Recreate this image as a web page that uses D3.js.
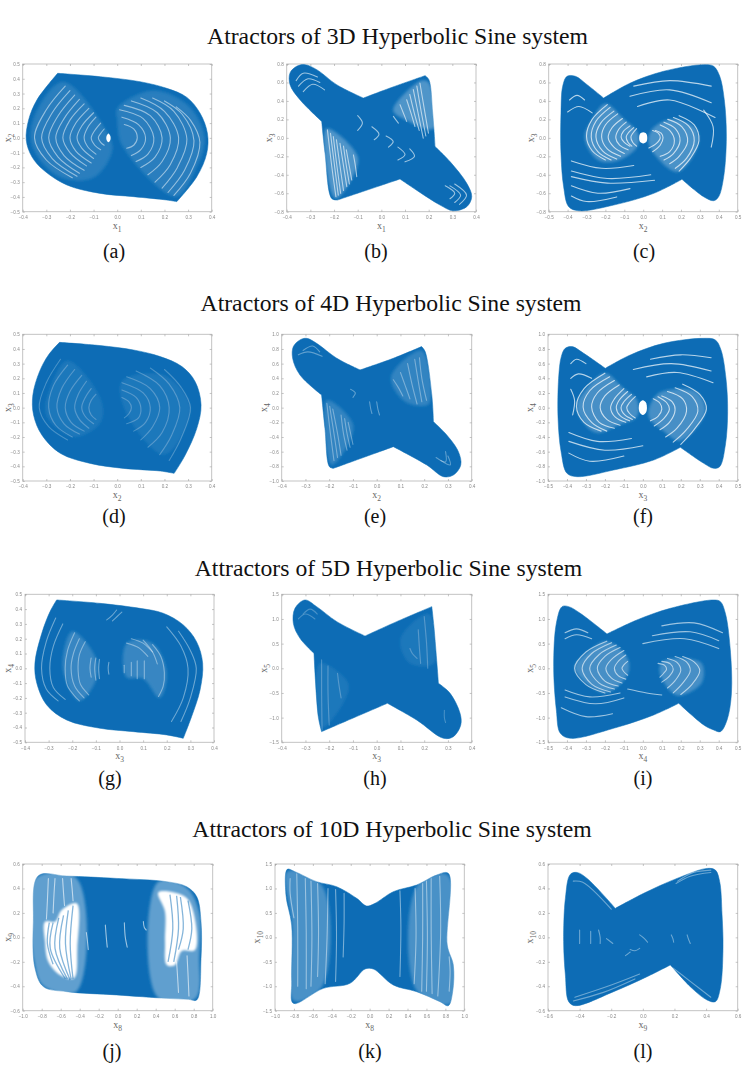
<!DOCTYPE html>
<html>
<head>
<meta charset="utf-8">
<script src="https://cdn.jsdelivr.net/npm/d3@7"></script>
<style>
  body { margin: 0; background: #fff; }
  svg { display: block; }
</style>
</head>
<body>
<div id="chart"></div>
<script>
// Section titles and panel letters
const titles = [
  "Atractors of 3D Hyperbolic Sine system",
  "Atractors of 4D Hyperbolic Sine system",
  "Attractors of 5D Hyperbolic Sine system",
  "Attractors of 10D Hyperbolic Sine system"
];
const panelIds = ["a", "b", "c", "d", "e", "f", "g", "h", "i", "j", "k", "l"];
const xNames = ["1", "1", "2", "2", "2", "3", "3", "3", "4", "8", "8", "9"];
const yNames = ["2", "3", "3", "3", "4", "4", "4", "5", "5", "9", "10", "10"];

// Tick labels of each axis
const ticks4 = [-0.4, -0.3, -0.2, -0.1, 0, 0.1, 0.2, 0.3, 0.4];
const ticks5 = [-0.5, -0.4, -0.3, -0.2, -0.1, 0, 0.1, 0.2, 0.3, 0.4, 0.5];
const ticks6 = [-0.6, -0.4, -0.2, 0, 0.2, 0.4, 0.6];
const ticks8 = [-0.8, -0.6, -0.4, -0.2, 0, 0.2, 0.4, 0.6, 0.8];
const ticks10 = [-1, -0.8, -0.6, -0.4, -0.2, 0, 0.2, 0.4, 0.6, 0.8, 1];
const ticks15 = [-1.5, -1, -0.5, 0, 0.5, 1, 1.5];

// Attractor outlines as [x, y] in axis units
const outlineA = [[-0.252,0.437],[-0.072,0.414],[0.097,0.38],[0.21,0.335],[0.295,0.274],[0.351,0.166],[0.382,0.03],[0.379,-0.105],[0.337,-0.263],[0.252,-0.432],[0.21,-0.421],[0.069,-0.398],[-0.072,-0.376],[-0.213,-0.319],[-0.312,-0.218],[-0.361,-0.128],[-0.385,-0.015],[-0.375,0.121],[-0.34,0.256]];
const outlineB = [[-0.323,0.793],[-0.273,0.739],[-0.189,0.576],[-0.076,0.431],[0.037,0.54],[0.185,0.674],[0.201,0.63],[0.217,0.268],[0.227,-0.094],[0.29,-0.257],[0.361,-0.493],[0.382,-0.638],[0.361,-0.746],[0.304,-0.79],[0.248,-0.728],[0.079,-0.446],[-0.186,-0.674],[-0.21,-0.656],[-0.238,-0.167],[-0.252,0.178],[-0.344,0.413],[-0.386,0.576],[-0.386,0.703],[-0.358,0.775]];
const outlineC = [[-0.403,0.667],[-0.359,0.667],[-0.297,0.576],[-0.209,0.431],[-0.068,0.594],[0.108,0.721],[0.32,0.793],[0.373,0.775],[0.405,0.667],[0.429,0.413],[0.44,0.014],[0.426,-0.42],[0.399,-0.638],[0.373,-0.681],[0.32,-0.638],[0.205,-0.449],[0.056,-0.601],[-0.156,-0.728],[-0.341,-0.79],[-0.394,-0.746],[-0.421,-0.529],[-0.435,-0.167],[-0.435,0.268],[-0.426,0.558]];
const outlineD = [[-0.244,0.445],[-0.072,0.423],[0.069,0.393],[0.182,0.348],[0.274,0.28],[0.33,0.177],[0.355,0.018],[0.337,-0.141],[0.288,-0.323],[0.241,-0.448],[0.182,-0.432],[0.027,-0.414],[-0.114,-0.38],[-0.241,-0.311],[-0.319,-0.186],[-0.354,-0.05],[-0.357,0.086],[-0.329,0.245],[-0.291,0.359]];
const outlineE = [[-0.295,0.945],[-0.253,0.877],[-0.168,0.673],[-0.07,0.514],[0.07,0.673],[0.189,0.832],[0.204,0.764],[0.232,0.173],[0.239,-0.191],[0.295,-0.373],[0.344,-0.6],[0.354,-0.782],[0.323,-0.918],[0.281,-0.941],[0.211,-0.782],[0.07,-0.532],[-0.182,-0.827],[-0.199,-0.805],[-0.218,-0.282],[-0.232,0.173],[-0.323,0.445],[-0.354,0.673],[-0.351,0.832],[-0.323,0.923]];
const outlineF = [[-0.409,0.809],[-0.373,0.832],[-0.312,0.741],[-0.198,0.536],[-0.066,0.718],[0.11,0.877],[0.321,0.945],[0.382,0.923],[0.412,0.786],[0.438,0.4],[0.447,-0.055],[0.435,-0.509],[0.405,-0.805],[0.373,-0.827],[0.321,-0.759],[0.198,-0.541],[0.057,-0.714],[-0.154,-0.85],[-0.347,-0.941],[-0.4,-0.895],[-0.431,-0.6],[-0.447,-0.145],[-0.444,0.4],[-0.43,0.695]];
const outlineG = [[-0.266,0.462],[-0.083,0.439],[0.087,0.405],[0.185,0.372],[0.27,0.293],[0.326,0.18],[0.352,0.034],[0.341,-0.146],[0.305,-0.327],[0.27,-0.473],[0.2,-0.45],[0.059,-0.428],[-0.083,-0.405],[-0.224,-0.349],[-0.308,-0.248],[-0.35,-0.101],[-0.358,0.034],[-0.329,0.236],[-0.294,0.383]];
const outlineH = [[-0.302,1.385],[-0.253,1.25],[-0.168,0.946],[-0.049,0.655],[0.084,0.946],[0.232,1.25],[0.241,0.845],[0.26,-0.304],[0.309,-0.507],[0.351,-0.912],[0.354,-1.149],[0.323,-1.385],[0.281,-1.419],[0.168,-1.047],[0.045,-0.709],[-0.232,-1.284],[-0.246,-0.98],[-0.264,0.304],[-0.323,0.608],[-0.351,0.912],[-0.344,1.216]];
const outlineI = [[-0.426,1.25],[-0.391,1.25],[-0.33,1.115],[-0.189,0.696],[-0.031,0.98],[0.145,1.216],[0.373,1.385],[0.409,1.351],[0.435,1.115],[0.461,0.372],[0.467,-0.507],[0.444,-1.047],[0.409,-1.284],[0.373,-1.25],[0.321,-1.149],[0.189,-0.709],[0.057,-0.946],[-0.154,-1.216],[-0.382,-1.419],[-0.435,-1.318],[-0.456,-0.845],[-0.47,0.034],[-0.456,0.912]];
const outlineJ = [[-0.835,0.504],[-0.537,0.501],[-0.011,0.482],[0.516,0.455],[0.726,0.414],[0.832,0.332],[0.877,0.128],[0.877,-0.172],[0.832,-0.512],[0.744,-0.507],[0.516,-0.499],[-0.011,-0.471],[-0.537,-0.444],[-0.782,-0.403],[-0.87,-0.253],[-0.888,0.128]];
const outlineK = [[-0.87,1.391],[-0.789,1.343],[-0.56,1.138],[-0.349,1.036],[-0.137,0.798],[-0.032,0.641],[0.056,0.695],[0.25,0.934],[0.496,1.07],[0.708,1.275],[0.831,1.309],[0.82,-0.157],[0.884,-0.566],[0.877,-1.111],[0.831,-1.397],[0.743,-1.316],[0.496,-1.111],[0.25,-0.975],[0.039,-0.648],[-0.049,-0.648],[-0.208,-0.941],[-0.489,-1.043],[-0.806,-1.35],[-0.824,-0.907],[-0.824,0.252],[-0.884,0.866]];
const outlineL = [[-0.459,0.515],[-0.417,0.531],[-0.353,0.482],[-0.174,0.237],[0.005,0.36],[0.216,0.482],[0.406,0.564],[0.459,0.55],[0.486,0.455],[0.501,0.183],[0.507,-0.09],[0.49,-0.417],[0.459,-0.526],[0.406,-0.512],[0.311,-0.417],[0.174,-0.226],[0.026,-0.322],[-0.185,-0.444],[-0.427,-0.559],[-0.469,-0.526],[-0.49,-0.308],[-0.501,-0.035],[-0.49,0.319]];

// Which outline points are sharp corners rather than part of a smooth edge
const corners = [[0,9],[3,5,8,15,16,19],[3,15],[0,9],[3,5,8,15,16,19],[3,15],[0,9],[3,5,7,14,15,17],[3,15],[],[],[3,15]];

// Pale gaps between the orbits, each traced as a few [x, y] points
const gapsA = [
  [[-.22,.35],[-.30,.19],[-.35,0],[-.30,-.15],[-.19,-.27]],[[-.2,.32],[-.275,.17],[-.32,0],[-.275,-.14],[-.17,-.26]],[[-.18,.29],[-.25,.15],[-.29,0],[-.25,-.13],[-.16,-.24]],
  [[-.16,.26],[-.225,.13],[-.26,0],[-.225,-.12],[-.14,-.22]],[[-.14,.23],[-.2,.12],[-.23,0],[-.2,-.1],[-.13,-.19]],[[-.12,.2],[-.175,.1],[-.2,0],[-.175,-.09],[-.11,-.17]],
  [[-.1,.17],[-.15,.08],[-.17,0],[-.15,-.07],[-.1,-.14]],[[-.09,.14],[-.125,.07],[-.14,0],[-.125,-.06],[-.09,-.11]],[[-.07,.1],[-.095,.05],[-.11,0],[-.095,-.05],[-.07,-.08]],[[-.055,.06],[-.07,.03],[-.08,0],[-.07,-.03],[-.055,-.05]],
  [[.03,.09],[.07,.06],[.085,0],[.07,-.05],[.04,-.07]],[[.02,.14],[.09,.09],[.12,0],[.1,-.08],[.06,-.12]],[[.01,.19],[.11,.13],[.155,0],[.13,-.11],[.08,-.16]],
  [[.03,.22],[.14,.15],[.19,0],[.16,-.13],[.1,-.2]],[[.06,.25],[.17,.17],[.225,0],[.19,-.16],[.13,-.25]],[[.1,.27],[.2,.18],[.26,0],[.225,-.18],[.16,-.3]],
  [[.15,.27],[.24,.18],[.295,-.01],[.255,-.2],[.19,-.34]],[[.2,.25],[.275,.16],[.325,-.02],[.285,-.22],[.215,-.37]],[[.25,.21],[.31,.12],[.35,-.03],[.31,-.24],[.24,-.39]]
];
const gapsB = [
  [[-.228,.087],[-.21,-.3],[-.192,-.638]],[[-.215,.05],[-.198,-.3],[-.182,-.62]],[[-.203,.014],[-.188,-.3],[-.172,-.601]],[[-.19,-.02],[-.175,-.3],[-.16,-.57]],[[-.175,-.058],[-.16,-.3],[-.146,-.529]],[[-.16,-.09],[-.148,-.3],[-.135,-.5]],[[-.148,-.13],[-.136,-.3],[-.125,-.457]],[[-.118,-.185],[-.11,-.3],[-.104,-.42]],
  [[.135,.522],[.156,.26],[.177,-.004]],[[.15,.56],[.168,.29],[.188,.02]],[[.163,.594],[.181,.32],[.199,.051]],[[.12,.47],[.14,.26],[.16,.08]],[[.107,.413],[.125,.27],[.142,.123]],[[.079,.359],[.093,.27],[.107,.178]],[[.051,.232],[.06,.2],[.072,.159]],
  [[-.36,.62],[-.33,.7],[-.27,.66]],[[-.35,.56],[-.31,.64],[-.26,.6]],[[-.33,.5],[-.29,.58],[-.24,.52]],[[.33,-.72],[.36,-.62],[.31,-.5]],[[.31,-.7],[.335,-.62],[.29,-.52]],[[.29,-.66],[.31,-.6],[.27,-.52]],
  [[-.1,.24],[-.08,.16],[-.1,.08]],[[-.04,.12],[-.01,.04],[-.03,-.02]],[[.02,.02],[.05,-.04],[.03,-.1]],[[.12,-.12],[.14,-.2],[.1,-.26]],[[.07,-.1],[.1,-.18],[.07,-.24]]
];
const gapsC = [
  [[-.19,.36],[-.27,.2],[-.3,.02],[-.27,-.14],[-.2,-.24]],[[-.175,.33],[-.25,.18],[-.275,.01],[-.24,-.15],[-.17,-.24]],[[-.155,.29],[-.225,.16],[-.25,.01],[-.215,-.14],[-.14,-.23]],[[-.135,.26],[-.2,.14],[-.22,.01],[-.19,-.12],[-.12,-.2]],
  [[-.11,.21],[-.165,.11],[-.185,0],[-.155,-.1],[-.1,-.17]],[[-.09,.17],[-.13,.09],[-.145,0],[-.125,-.08],[-.08,-.13]],[[-.07,.13],[-.105,.07],[-.117,.01],[-.1,-.05],[-.07,-.09]],[[-.05,.11],[-.08,.05],[-.09,.01],[-.08,-.05],[-.06,-.09]],[[-.035,.1],[-.055,.05],[-.065,.01],[-.055,-.05],[-.035,-.09]],
  [[.05,.08],[.08,.05],[.09,0],[.07,-.06],[.03,-.11]],[[.065,.08],[.095,.05],[.105,0],[.09,-.08],[.05,-.15]],[[.09,.14],[.14,.08],[.165,-.03],[.14,-.15],[.09,-.2]],[[.11,.17],[.17,.1],[.195,-.03],[.16,-.17],[.11,-.24]],[[.13,.2],[.205,.12],[.235,-.04],[.19,-.2],[.14,-.28]],[[.16,.22],[.24,.13],[.27,-.03],[.23,-.22],[.17,-.33]],[[.19,.24],[.27,.14],[.295,-.03],[.25,-.22],[.19,-.36]],
  [[-.38,-.36],[-.19,-.44],[.04,-.4]],[[-.38,-.42],[-.19,-.49],[.06,-.46]],[[-.38,-.52],[-.24,-.6],[-.07,-.55]],[[-.38,-.63],[-.3,-.69],[-.14,-.64]],[[-.38,-.25],[-.22,-.33],[-.05,-.3]],
  [[-.07,.45],[.14,.52],[.36,.38]],[[-.03,.34],[.14,.41],[.38,.22]],[[-.05,.56],[.14,.62],[.36,.56]],[[.32,.3],[.37,.12],[.36,-.1]],[[-.39,.41],[-.35,.46],[-.31,.41]],[[-.4,.28],[-.34,.34],[-.27,.27]]
];
const gapsD = [
  [[-.24,.33],[-.3,.17],[-.33,0],[-.29,-.13],[-.21,-.22]],[[-.21,.29],[-.27,.15],[-.29,0],[-.26,-.12],[-.19,-.2]],[[-.18,.26],[-.235,.13],[-.255,0],[-.225,-.11],[-.16,-.18]],[[-.15,.22],[-.2,.11],[-.22,0],[-.195,-.1],[-.14,-.16]],[[-.13,.18],[-.165,.09],[-.18,0],[-.16,-.08],[-.12,-.14]],[[-.11,.13],[-.135,.07],[-.15,0],[-.135,-.06],[-.1,-.11]],[[-.09,.09],[-.11,.05],[-.12,0],[-.11,-.05],[-.09,-.08]],
  [[.02,.07],[.05,.04],[.06,0],[.05,-.04],[.03,-.07]],[[.02,.12],[.08,.07],[.1,0],[.09,-.07],[.04,-.11]],[[.02,.17],[.11,.1],[.14,0],[.12,-.1],[.07,-.16]],[[.04,.21],[.14,.13],[.18,0],[.15,-.13],[.1,-.22]],[[.08,.25],[.18,.15],[.22,0],[.19,-.17],[.13,-.27]],[[.14,.27],[.22,.16],[.265,0],[.23,-.19],[.18,-.32]],[[.2,.26],[.27,.14],[.31,0],[.27,-.21],[.22,-.36]]
];
const gapsE = [
  [[-.21,.06],[-.195,-.35],[-.18,-.72]],[[-.198,.02],[-.18,-.35],[-.165,-.68]],[[-.185,-.02],[-.165,-.35],[-.15,-.65]],[[-.15,-.1],[-.14,-.35],[-.125,-.58]],[[-.135,-.15],[-.125,-.35],[-.112,-.54]],[[-.12,-.2],[-.11,-.35],[-.1,-.5]],
  [[.13,.6],[.15,.3],[.17,.05]],[[.1,.48],[.12,.3],[.14,.12]],[[.07,.38],[.09,.28],[.11,.16]],[[.16,.66],[.175,.36],[.19,.08]],[[.18,.68],[.19,.4],[.21,.1]],
  [[-.03,.08],[-.025,-.02],[-.02,-.08]],[[0,.08],[.005,-.02],[.012,-.1]],[[-.11,.25],[-.09,.2],[-.1,.14]],[[-.31,.78],[-.27,.84],[-.24,.76]],[[-.33,.72],[-.29,.76],[-.23,.7]],[[.27,-.72],[.31,-.78],[.3,-.66]],[[.25,-.68],[.29,-.74],[.29,-.6]]
];
const gapsF = [
  [[-.2,.47],[-.31,.26],[-.35,.02],[-.31,-.2],[-.22,-.32]],[[-.175,.42],[-.28,.23],[-.315,.01],[-.27,-.2],[-.19,-.32]],[[-.15,.37],[-.24,.2],[-.27,.01],[-.23,-.2],[-.15,-.28]],[[-.125,.31],[-.2,.16],[-.225,0],[-.19,-.16],[-.12,-.24]],[[-.1,.26],[-.15,.12],[-.17,0],[-.145,-.13],[-.09,-.2]],[[-.08,.22],[-.125,.1],[-.14,0],[-.12,-.11],[-.07,-.18]],[[-.06,.18],[-.1,.08],[-.115,0],[-.095,-.1],[-.055,-.16]],[[-.04,.15],[-.07,.07],[-.085,0],[-.07,-.08],[-.04,-.14]],
  [[.055,.12],[.09,.06],[.1,-.02],[.08,-.12],[.04,-.18]],[[.08,.15],[.125,.07],[.14,-.02],[.11,-.15],[.06,-.25]],[[.1,.16],[.155,.08],[.17,-.03],[.14,-.2],[.09,-.3]],[[.13,.22],[.21,.12],[.23,-.05],[.18,-.28],[.12,-.4]],[[.17,.27],[.26,.15],[.29,-.05],[.23,-.3],[.16,-.47]],[[.21,.32],[.3,.18],[.335,-.02],[.27,-.3],[.2,-.5]],
  [[-.39,-.46],[-.2,-.58],[0,-.52]],[[-.39,-.62],[-.28,-.73],[-.1,-.66]],[[-.39,-.34],[-.24,-.46],[-.06,-.42]],[[-.05,.52],[.15,.6],[.36,.5]],[[.02,.42],[.18,.48],[.37,.34]],[[.04,.66],[.2,.72],[.36,.68]],[[-.38,.6],[-.35,.66],[-.3,.6]],[[-.38,.4],[-.34,.46],[-.27,.4]],[[-.38,.25],[-.36,.1],[-.37,-.1]]
];
const gapsG = [
  [[-.19,.24],[-.22,.12],[-.23,0],[-.22,-.12],[-.17,-.22]],[[-.17,.2],[-.195,.1],[-.205,0],[-.19,-.12],[-.15,-.2]],[[-.145,.18],[-.17,.09],[-.175,-.02],[-.165,-.11],[-.13,-.18]],[[-.27,.34],[-.31,.18],[-.33,0],[-.31,-.14],[-.26,-.22]],[[-.24,.3],[-.28,.15],[-.295,0],[-.28,-.13],[-.23,-.21]],
  [[-.12,.07],[-.125,0],[-.12,-.06]],[[-.1,.07],[-.105,0],[-.1,-.08]],[[-.085,.06],[-.088,0],[-.085,-.07]],[[-.045,.04],[-.048,0],[-.045,-.04]],[[.02,.02],[.02,0],[.02,-.03]],[[.05,.04],[.05,0],[.05,-.05]],[[.075,.05],[.075,0],[.075,-.07]],[[.105,.05],[.105,0],[.105,-.07]],
  [[.14,.16],[.175,.08],[.19,-.03],[.185,-.12],[.165,-.19]],[[.1,.19],[.14,.11],[.16,.03]],[[.05,.2],[.1,.17],[.14,.11]],[[.03,.17],[.08,.14],[.12,.08]],[[.2,.28],[.26,.15],[.29,0],[.27,-.2],[.22,-.36]],[[.25,.25],[.3,.12],[.325,0],[.3,-.2],[.26,-.36]],[[-.054,.327],[-.03,.36],[-.012,.394]],[[-.03,.32],[-.01,.35],[.01,.38]]
];
const gapsH = [
  [[-.232,.17],[-.232,-.5],[-.23,-1.25]],[[-.205,.05],[-.205,-.5],[-.2,-1.15]],[[-.165,-.1],[-.16,-.3],[-.15,-.6]],[[.175,.78],[.18,.4],[.185,.1]],[[.2,1.05],[.21,.5],[.215,0]],[[.14,.4],[.15,.3],[.17,.2]],
  [[.285,-.85],[.285,-1],[.29,-1.1]],[[-.31,1.1],[-.28,1.2],[-.25,1.1]],[[-.33,1],[-.3,1.1],[-.26,1]]
];
const gapsI = [
  [[-.19,.55],[-.3,.33],[-.36,0],[-.3,-.33],[-.2,-.5]],[[-.165,.52],[-.27,.3],[-.32,0],[-.27,-.32],[-.17,-.48]],[[-.14,.47],[-.23,.28],[-.28,0],[-.23,-.3],[-.15,-.42]],[[-.12,.42],[-.2,.24],[-.24,0],[-.2,-.26],[-.13,-.36]],[[-.1,.36],[-.165,.18],[-.195,0],[-.165,-.2],[-.11,-.3]],[[-.09,.27],[-.13,.14],[-.15,0],[-.13,-.15],[-.09,-.22]],[[-.08,.14],[-.1,.07],[-.11,0],[-.1,-.07],[-.08,-.14]],
  [[.08,.1],[.115,.06],[.125,-.02],[.11,-.1],[.09,-.18]],[[.1,.14],[.145,.09],[.16,-.02],[.14,-.16],[.1,-.28]],[[.13,.2],[.18,.12],[.2,-.04],[.17,-.25],[.13,-.4]],[[.17,.24],[.23,.13],[.25,-.05],[.21,-.3],[.16,-.5]],[[.21,.24],[.27,.13],[.3,-.05],[.26,-.32],[.2,-.53]],
  [[-.41,.72],[-.35,.8],[-.29,.72]],[[-.41,.6],[-.35,.68],[-.27,.6]],[[-.41,-.58],[-.25,-.72],[-.1,-.6]],[[-.41,-.44],[-.28,-.58],[-.12,-.5]],[[-.43,-.8],[-.3,-.98],[-.16,-.92]],[[.1,.86],[.27,.92],[.42,.72]],[[.05,.66],[.25,.74],[.4,.56]],[[0,.5],[.22,.6],[.4,.4]],[[-.08,-.42],[.02,-.5],[.1,-.54]]
];
const gapsJ = [
  [[-.73,.48],[-.74,.3],[-.75,.15]],[[-.66,.48],[-.67,.36],[-.68,.2]],[[-.58,.48],[-.57,.36],[-.56,.26]],[[-.49,.48],[-.48,.4],[-.47,.3]],[[-.33,.04],[-.32,-.02],[-.31,-.1]],[[-.13,.1],[-.12,0],[-.11,-.08]],[[.07,.12],[.08,0],[.1,-.08]],[[.27,.13],[.28,.08],[.3,.06]],
  [[.62,-.2],[.63,-.32],[.64,-.45]],[[.73,-.15],[.74,-.3],[.75,-.48]]
];
const gapsK = [
  [[-.77,1.3],[-.76,.2],[-.76,-1]],[[-.68,1.2],[-.67,.1],[-.67,-1.05]],[[-.62,1.15],[-.61,0],[-.62,-1]],[[-.55,1.1],[-.54,.1],[-.55,-.8]],[[-.44,1],[-.45,0],[-.47,-.95]],[[-.36,.98],[-.35,0],[-.36,-.9]],[[-.27,.9],[-.27,.3],[-.28,-.4]],
  [[.32,.95],[.33,.2],[.32,-.8]],[[.48,1],[.49,0],[.47,-.95]],[[.56,1.1],[.56,0],[.55,-1.1]],[[.6,1.15],[.61,0],[.6,-1.1]],[[.65,1.2],[.65,.1],[.66,-1.15]],[[.74,1.25],[.75,.1],[.72,-1.2]],[[-.84,1.2],[-.84,.9],[-.8,.4]],[[.84,-.4],[.85,-.7],[.84,-1.1]]
];
const gapsL = [
  [[-.44,.46],[-.38,.45],[-.2,.23]],[[-.43,-.49],[-.2,-.39],[-.02,-.3]],[[-.44,-.52],[-.25,-.45],[-.05,-.34]],[[.21,.44],[.3,.5],[.43,.53]],[[.22,.46],[.32,.53],[.43,.55]],[[.19,-.25],[.3,-.36],[.43,-.49]],
  [[-.4,.06],[-.4,0],[-.4,-.05]],[[-.33,.05],[-.33,0],[-.33,-.05]],[[-.28,.06],[-.27,0],[-.27,-.05]],[[-.23,-.01],[-.21,-.03],[-.19,-.05]],[[-.02,.02],[.01,-.01],[.03,-.04]],[[.18,.02],[.19,-.01],[.195,-.04]],[[.28,.02],[.29,-.02],[.3,-.05]],[[-.08,-.1],[-.05,-.11],[-.02,-.09]],[[-.11,-.15],[-.1,-.14],[-.08,-.12]]
];

// Empty pockets in the middle of some attractors
const holesA = [[[-0.037,0.03],[-0.029,0.012],[-0.029,-0.015],[-0.037,-0.03],[-0.045,-0.015],[-0.045,0.012]]];
const holesC = [[[0,0.06],[0.018,0.04],[0.018,-0.04],[0,-0.06],[-0.018,-0.04],[-0.018,0.04]]];
const holesF = [[[0,0.1],[0.018,0.06],[0.018,-0.06],[0,-0.1],[-0.018,-0.06],[-0.018,0.06]]];
const holesJ = [
  [[-0.765,0.128],[-0.66,0.128],[-0.589,0.223],[-0.432,0.278],[-0.425,-0.09],[-0.46,-0.335],[-0.607,-0.308],[-0.73,-0.199],[-0.765,-0.035]],
  [[0.428,0.368],[0.709,0.332],[0.796,0.21],[0.814,-0.104],[0.674,-0.112],[0.604,-0.226],[0.516,-0.226],[0.498,-0.035],[0.498,0.21]]
];

// Lighter lobes and wings, where the orbits run less densely
const lobesA = [
  [[-.23,.38],[-.05,.06],[-.02,-.08],[-.1,-.27],[-.25,-.26],[-.36,-.05],[-.35,.15]],
  [[.25,-.4],[.02,-.05],[0,.12],[0,.2],[.15,.32],[.3,.22],[.37,0],[.33,-.22]]
];
const lobesB = [
  [[-.232,.1],[-.1,-.2],[-.12,-.42],[-.19,-.66],[-.21,-.6]],
  [[.17,.62],[.2,.6],[.22,.1],[.1,.2],[.05,.3]]
];
const lobesC = [
  [[-.2,.37],[-.1,.2],[-.03,.06],[-.03,-.09],[-.14,-.25],[-.24,-.24],[-.31,0],[-.27,.2]],
  [[.03,-.07],[.18,-.37],[.29,-.08],[.28,.1],[.15,.2],[.05,.1]]
];
const lobesD = [
  [[-.21,.32],[-.07,.06],[-.07,-.1],[-.18,-.2],[-.3,-.05],[-.28,.15]],
  [[.02,.18],[.2,.22],[.31,0],[.2,-.32],[.04,-.04]]
];
const lobesE = [
  [[-.21,.1],[-.1,-.22],[-.12,-.5],[-.19,-.78]],
  [[.19,.78],[.22,.05],[.12,.08],[.06,.42]]
];
const lobesF = [
  [[-.2,.47],[-.1,.26],[-.03,.1],[-.03,-.12],[-.13,-.24],[-.25,-.34],[-.35,0],[-.3,.25]],
  [[.03,-.12],[.1,-.3],[.2,-.45],[.33,-.05],[.28,.22],[.1,.22],[.05,.1]]
];
const lobesG = [
  [[-.2,.25],[-.1,.07],[-.1,-.08],[-.17,-.22],[-.24,0]],
  [[.03,.17],[.14,.17],[.2,-.03],[.17,-.2],[.1,-.07],[.03,-.06]]
];
const lobesH = [
  [[-.24,.1],[-.12,-.3],[-.14,-.7],[-.23,-1.2]],
  [[.22,1.1],[.24,.1],[.14,.1],[.1,.6]]
];
const lobesI = [
  [[-.19,.55],[-.08,.2],[-.08,-.12],[-.2,-.5],[-.36,0],[-.3,.3]],
  [[.09,-.1],[.18,-.55],[.31,-.3],[.31,.1],[.22,.2],[.1,.12]]
];
const lobesJ = [
  [[-.87,.48],[-.43,.48],[-.43,-.44],[-.78,-.4],[-.88,-.2]],
  [[.42,.45],[.72,.41],[.86,.2],[.86,-.15],[.82,-.5],[.42,-.49]]
];
const lobesK = [
  [[-.87,1.35],[-.5,1.05],[-.5,-1],[-.8,-1.3],[-.82,.25]],
  [[.5,1.05],[.82,1.28],[.86,-1.35],[.5,-1.1]]
];

// Empty pockets get crossed by a few orbit threads in panel j
const threadsJ = [
  [[-.72,.12],[-.74,-.05],[-.68,-.22]],[[-.68,.12],[-.71,-.09],[-.55,-.34]],[[-.62,.16],[-.66,-.09],[-.53,-.34]],[[-.57,.18],[-.61,-.09],[-.5,-.35]],[[-.52,.22],[-.55,-.05],[-.49,-.34]],[[-.47,.26],[-.5,-.05],[-.47,-.34]],
  [[.55,.35],[.58,.07],[.53,-.2]],[[.62,.34],[.64,.07],[.59,-.2]],[[.66,.33],[.69,.07],[.64,-.1]],[[.74,.3],[.78,.07],[.74,-.1]]
];

const outlines = [outlineA, outlineB, outlineC, outlineD, outlineE, outlineF, outlineG, outlineH, outlineI, outlineJ, outlineK, outlineL];
const gaps = [gapsA, gapsB, gapsC, gapsD, gapsE, gapsF, gapsG, gapsH, gapsI, gapsJ, gapsK, gapsL];
const holes = [holesA, [], holesC, [], [], holesF, [], [], [], holesJ, [], []];
const lobes = [lobesA, lobesB, lobesC, lobesD, lobesE, lobesF, lobesG, lobesH, lobesI, lobesJ, lobesK, []];
const threads = [[], [], [], [], [], [], [], [], [], threadsJ, [], []];

// Axis ranges and ticks per panel
const xTicks = [ticks4, ticks4, ticks5, ticks4, ticks4, ticks5, ticks4, ticks4, ticks5, ticks10, ticks10, ticks6];
const yTicks = [ticks5, ticks8, ticks8, ticks5, ticks10, ticks10, ticks5, ticks15, ticks15, ticks6, ticks15, ticks6];

// Layout: frame left/right per panel, frame top/bottom per row
const frameX = [[22.7,211.7],[286.7,476],[548.7,737.7],[22.7,211.7],[281.7,471.7],[548,737.7],[25,214],[281.7,471.7],[548,737.7],[22.7,212.7],[275,464.3],[548,737.7]];
const frameY = [[64,211.7],[334.3,481],[594.3,742.3],[864,1010.7]];
const titleX = [397.5, 391, 388.5, 392];
const titleY = [44, 311, 576, 837];
const letterX = [114, 376, 644, 114, 375, 643, 110, 375, 643, 112, 370, 643];
const letterY = [258, 523, 785, 1058];
const gapAlpha = [0.5, 0.6, 0.7, 0.25, 0.35, 0.7, 0.4, 0.25, 0.6, 0.6, 0.45, 0.4];
const lobeAlpha = [0.12, 0.28, 0.26, 0.08, 0.16, 0.24, 0.18, 0.08, 0.24, 0.35, 0.25, 0];

const blue = "#0b6cb5";
const width = 747;
const height = 1070;

const svg = d3.select("#chart").append("svg")
  .attr("width", width)
  .attr("height", height);

// The picture is a soft, resampled scan, so the plots get a small blur
const defs = svg.append("defs");
[["soft", 0.5], ["wide", 1.8], ["hazy", 0.9]].forEach(([name, amount]) => {
  defs.append("filter")
    .attr("id", name)
    .attr("x", "-20%").attr("y", "-20%").attr("width", "140%").attr("height", "140%")
    .append("feGaussianBlur")
    .attr("stdDeviation", amount);
});

svg.append("g").selectAll("text")
  .data(titles)
  .join("text")
  .attr("x", (d, i) => titleX[i])
  .attr("y", (d, i) => titleY[i])
  .attr("text-anchor", "middle")
  .attr("font-family", "'Liberation Serif', serif")
  .attr("font-size", 23.7)
  .attr("fill", "#111")
  .text(d => d);

panelIds.forEach((id, i) => {
  const row = Math.floor(i / 3);
  const xt = xTicks[i];
  const yt = yTicks[i];
  const x = d3.scaleLinear().domain([xt[0], xt[xt.length - 1]]).range(frameX[i]);
  const y = d3.scaleLinear().domain([yt[0], yt[yt.length - 1]]).range([frameY[row][1], frameY[row][0]]);

  const blob = d3.line().x(d => x(d[0])).y(d => y(d[1])).curve(d3.curveCatmullRomClosed.alpha(0.5));
  const streak = d3.line().x(d => x(d[0])).y(d => y(d[1])).curve(d3.curveCatmullRom.alpha(0.5));

  const g = svg.append("g").attr("class", "panel-" + id).attr("filter", "url(#soft)");

  // Box with ticks on all four sides
  const boxX = frameX[i];
  const boxY = frameY[row];
  g.append("rect")
    .attr("x", boxX[0]).attr("y", boxY[0])
    .attr("width", boxX[1] - boxX[0]).attr("height", boxY[1] - boxY[0])
    .attr("fill", "none").attr("stroke", "#bdbdbd").attr("stroke-width", 0.9);

  const axes = [
    [d3.axisBottom(x).tickValues(xt).tickSizeInner(-2).tickPadding(4).tickSizeOuter(0), boxY[1]],
    [d3.axisTop(x).tickValues(xt).tickSizeInner(-2).tickFormat("").tickSizeOuter(0), boxY[0]],
    [d3.axisLeft(y).tickValues(yt).tickSizeInner(-2).tickPadding(3).tickSizeOuter(0), boxX[0]],
    [d3.axisRight(y).tickValues(yt).tickSizeInner(-2).tickFormat("").tickSizeOuter(0), boxX[1]]
  ];
  axes.forEach(([axis, pos], k) => {
    const a = g.append("g")
      .attr("transform", k < 2 ? `translate(0,${pos})` : `translate(${pos},0)`)
      .call(axis);
    a.select(".domain").remove();
    a.selectAll("line").attr("stroke", "#a0a0a0").attr("stroke-width", 0.6);
    a.selectAll("text")
      .attr("font-family", "'Liberation Sans', sans-serif")
      .attr("font-size", 4.6)
      .attr("fill", "#888");
  });

  // Attractor body: doubling a point makes the spline turn sharply there
  const bodyPoints = outlines[i].flatMap((p, k) => corners[i].includes(k) ? [p, p] : [p]);
  g.append("path")
    .attr("d", blob(bodyPoints))
    .attr("fill", blue)
    .attr("stroke", blue)
    .attr("stroke-width", 0.5)
    .attr("stroke-linejoin", "round");

  g.selectAll(".lobe")
    .data(lobes[i])
    .join("path")
    .attr("class", "lobe")
    .attr("d", blob)
    .attr("fill", "#fff")
    .attr("filter", "url(#wide)")
    .attr("opacity", lobeAlpha[i]);

  g.selectAll(".hole")
    .data(holes[i])
    .join("path")
    .attr("class", "hole")
    .attr("d", blob)
    .attr("fill", "#fff")
    .attr("filter", id === "j" ? "url(#hazy)" : null);

  g.selectAll(".gap")
    .data(gaps[i])
    .join("path")
    .attr("class", "gap")
    .attr("d", streak)
    .attr("fill", "none")
    .attr("stroke", "#fff")
    .attr("stroke-width", 1.1)
    .attr("stroke-linecap", "round")
    .attr("opacity", gapAlpha[i]);

  g.selectAll(".thread")
    .data(threads[i])
    .join("path")
    .attr("class", "thread")
    .attr("d", streak)
    .attr("fill", "none")
    .attr("stroke", blue)
    .attr("stroke-width", 1.3)
    .attr("opacity", 0.5);

  // Axis names with subscripts
  const xLabel = svg.append("text")
    .attr("x", (boxX[0] + boxX[1]) / 2)
    .attr("y", boxY[1] + 17)
    .attr("text-anchor", "middle")
    .attr("font-family", "'Liberation Serif', serif")
    .attr("font-size", 10)
    .attr("fill", "#666");
  xLabel.append("tspan").text("x");
  xLabel.append("tspan").attr("dy", 3).attr("font-size", 7.5).text(xNames[i]);

  const cy = (boxY[0] + boxY[1]) / 2;
  const yLabel = svg.append("text")
    .attr("transform", `translate(${Math.max(boxX[0] - 15, 11)},${cy}) rotate(-90)`)
    .attr("text-anchor", "middle")
    .attr("font-family", "'Liberation Serif', serif")
    .attr("font-size", 10)
    .attr("fill", "#666");
  yLabel.append("tspan").text("x");
  yLabel.append("tspan").attr("dy", 3).attr("font-size", 7.5).text(yNames[i]);

  svg.append("text")
    .attr("x", letterX[i])
    .attr("y", letterY[row])
    .attr("text-anchor", "middle")
    .attr("font-family", "'Liberation Serif', serif")
    .attr("font-size", 20)
    .attr("fill", "#111")
    .text(`(${id})`);
});
</script>
</body>
</html>
